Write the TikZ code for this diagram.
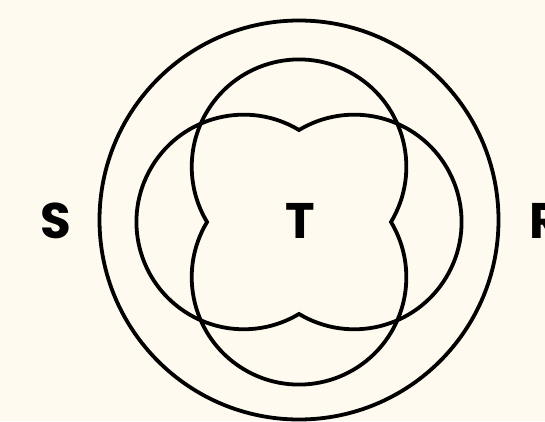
\documentclass[tikz,border=0pt]{standalone}
\usepackage{fontspec}
\setmainfont{Poppins}
\definecolor{paper}{HTML}{FEFAEF}

\begin{document}
\begin{tikzpicture}[
  x=1pt, y=1pt,
  ring/.style={draw=black, line width=3.8pt, line join=miter},
  setlabel/.style={anchor=base, inner sep=0pt, font=\fontsize{50}{50}\selectfont\bfseries}
]
\fill[paper] (0,0) rectangle (545,421);
\useasboundingbox (0,0) rectangle (545,421);

% outer circle
\draw[ring] (299,201) circle[radius=199.5];

% horizontal pair: left and right circles, from top cusp
\draw[ring] (299,291)
  arc[start angle=59, end angle=301, radius=107.3]
  arc[start angle=-121, end angle=121, radius=107.3] -- cycle;

% vertical pair: top and bottom circles, from right cusp
\draw[ring] (391,199)
  arc[start angle=-31, end angle=211, radius=107.3]
  arc[start angle=149, end angle=391, radius=107.3] -- cycle;

\node[setlabel] (S) at (56,183) {S};
\node[setlabel] (T) at (300,183) {T};
\node[setlabel] (R) at (546,183) {R};
\end{tikzpicture}
\end{document}
